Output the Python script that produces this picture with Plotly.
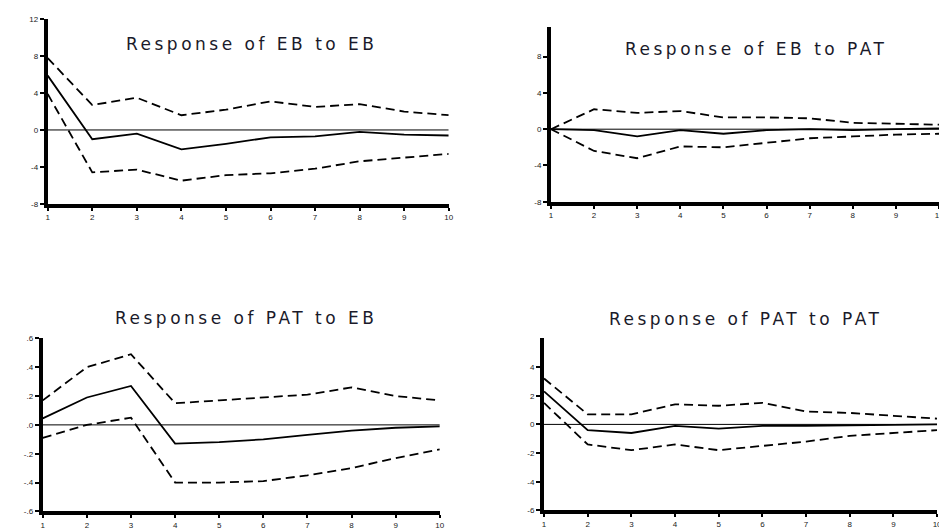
import plotly.graph_objects as go

periods = [1, 2, 3, 4, 5, 6, 7, 8, 9, 10]
x_tick_labels = ["1", "2", "3", "4", "5", "6", "7", "8", "9", "10"]

titles = ["Response of EB to EB", "Response of EB to PAT",
          "Response of PAT to EB", "Response of PAT to PAT"]

# Response of EB to EB
eb_eb = [5.9, -1.0, -0.4, -2.1, -1.5, -0.8, -0.7, -0.2, -0.5, -0.6]
eb_eb_up = [7.8, 2.7, 3.5, 1.6, 2.2, 3.1, 2.5, 2.8, 2.0, 1.6]
eb_eb_lo = [3.9, -4.6, -4.3, -5.5, -4.9, -4.7, -4.2, -3.4, -3.0, -2.6]

# Response of EB to PAT
eb_pat = [0.0, -0.1, -0.8, -0.1, -0.5, -0.1, 0.0, -0.1, 0.0, 0.1]
eb_pat_up = [0.0, 2.2, 1.8, 2.0, 1.3, 1.3, 1.2, 0.7, 0.6, 0.5]
eb_pat_lo = [0.0, -2.4, -3.2, -1.9, -2.0, -1.5, -1.0, -0.8, -0.6, -0.5]

# Response of PAT to EB
pat_eb = [0.045, 0.19, 0.27, -0.13, -0.12, -0.10, -0.07, -0.04, -0.02, -0.01]
pat_eb_up = [0.17, 0.40, 0.49, 0.15, 0.17, 0.19, 0.21, 0.26, 0.20, 0.17]
pat_eb_lo = [-0.09, 0.0, 0.05, -0.40, -0.40, -0.39, -0.35, -0.30, -0.23, -0.17]

# Response of PAT to PAT
pat_pat = [2.3, -0.4, -0.6, -0.1, -0.3, -0.1, -0.1, -0.05, 0.0, 0.0]
pat_pat_up = [3.2, 0.7, 0.7, 1.4, 1.3, 1.5, 0.9, 0.8, 0.6, 0.4]
pat_pat_lo = [1.5, -1.4, -1.8, -1.4, -1.8, -1.5, -1.2, -0.8, -0.6, -0.4]

y_ticks = [
    ([-8, -4, 0, 4, 8, 12], ["-8", "-4", "0", "4", "8", "12"], [-8, 12]),
    ([-8, -4, 0, 4, 8], ["-8", "-4", "0", "4", "8"], [-8, 11.3]),
    ([-0.6, -0.4, -0.2, 0.0, 0.2, 0.4, 0.6], ["-.6", "-.4", "-.2", ".0", ".2", ".4", ".6"], [-0.6, 0.6]),
    ([-6, -4, -2, 0, 2, 4], ["-6", "-4", "-2", "0", "2", "4"], [-6, 6]),
]

W, H = 947, 531
# pixel boxes: (x_left, x_right, y_top, y_bottom)
boxes = [
    (38, 442, 7.5, 195),
    (545, 936, 15, 193),
    (33, 433, 332, 508),
    (538, 934, 332, 507),
]
title_pos = [(244, 33), (752, 38), (238, 311), (741, 312)]

series = [
    (eb_eb, eb_eb_up, eb_eb_lo),
    (eb_pat, eb_pat_up, eb_pat_lo),
    (pat_eb, pat_eb_up, pat_eb_lo),
    (pat_pat, pat_pat_up, pat_pat_lo),
]

tick_font = dict(size=8, color="#1a1a1a", family="Liberation Sans")

fig = go.Figure()
layout = {}
annotations = []
for i, ((mid, up, lo), (xl, xr, yt, yb), (tv, tt, rng)) in enumerate(zip(series, boxes, y_ticks)):
    n = "" if i == 0 else str(i + 1)
    xa, ya = "x" + n, "y" + n
    for vals, dash in ((up, "9px,5px"), (lo, "9px,5px"), (mid, "solid")):
        fig.add_trace(go.Scatter(x=periods, y=vals, mode="lines", xaxis=xa, yaxis=ya,
                                 line=dict(color="black", width=1.8, dash=dash),
                                 showlegend=False, hoverinfo="skip"))
    fig.add_trace(go.Scatter(x=[1, 10], y=[0, 0], mode="lines", xaxis=xa, yaxis=ya,
                             line=dict(color="black", width=1), showlegend=False, hoverinfo="skip"))
    layout["xaxis" + n] = dict(domain=[xl / W, xr / W], range=[1, 10], anchor=ya,
                               tickvals=periods, ticktext=x_tick_labels,
                               showgrid=False, zeroline=False, showline=True,
                               linecolor="black", linewidth=4, ticks="outside",
                               ticklen=3, tickwidth=1.5, tickcolor="black",
                               tickfont=tick_font)
    layout["yaxis" + n] = dict(domain=[1 - yb / H, 1 - yt / H], range=rng, anchor=xa,
                               tickvals=tv, ticktext=tt,
                               showgrid=False, zeroline=False, showline=True,
                               linecolor="black", linewidth=4, ticks="outside",
                               ticklen=4, tickwidth=1.5, tickcolor="black",
                               tickfont=tick_font)
    tx, ty = title_pos[i]
    annotations.append(dict(text='<span style="letter-spacing:3.5px">' + titles[i] + '</span>',
                            x=tx / W, y=1 - ty / H, xref="paper", yref="paper",
                            showarrow=False, xanchor="center", yanchor="middle",
                            font=dict(size=17, color="#1a1a2a", family="DejaVu Sans")))

fig.update_layout(width=W, height=H, margin=dict(l=0, r=0, t=0, b=0),
                  paper_bgcolor="white", plot_bgcolor="white",
                  annotations=annotations, **layout)
fig.write_html("out.html")
